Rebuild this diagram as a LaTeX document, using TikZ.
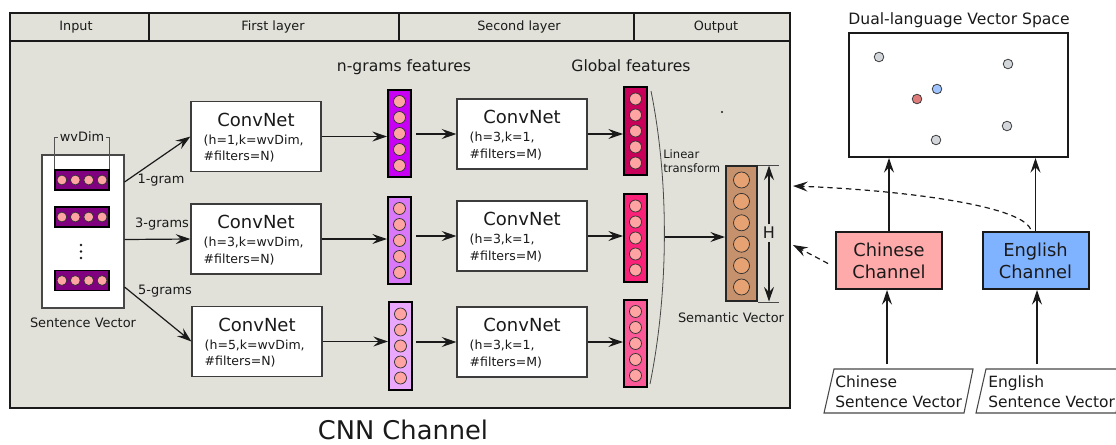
\documentclass[tikz,border=0pt]{standalone}
\usepackage{fontspec}
\setmainfont{DejaVu Sans}
\usetikzlibrary{arrows.meta,calc}

\definecolor{ink}{HTML}{1A1A1A}
\definecolor{panelbg}{HTML}{E1E1DA}
\definecolor{beadc}{HTML}{FFA3A3}
\definecolor{wordc}{HTML}{800080}
\definecolor{ngAc}{HTML}{C800F4}
\definecolor{ngBc}{HTML}{DA78FA}
\definecolor{ngCc}{HTML}{EAA8FC}
\definecolor{gfAc}{HTML}{C8005A}
\definecolor{gfBc}{HTML}{FA2278}
\definecolor{gfCc}{HTML}{FA5896}
\definecolor{semc}{HTML}{C6926E}
\definecolor{sembeadc}{HTML}{E6A272}
\definecolor{zhc}{HTML}{FFAAAA}
\definecolor{enc}{HTML}{80B3FF}
\definecolor{ptgray}{HTML}{D3D6DB}
\definecolor{ptblue}{HTML}{9EC3FF}
\definecolor{ptred}{HTML}{E07B7B}

\tikzset{
  arr/.style={draw=ink, line width=0.9pt, -{Stealth[length=11pt,width=7.5pt,inset=4pt]}},
  darr/.style={arr, dash pattern=on 4pt off 3pt},
  convbox/.style={draw=ink!85, line width=0.9pt, fill=white, minimum width=97.5pt, minimum height=52.5pt, inner sep=0pt},
  convtitle/.style={font=\fontsize{13.5}{16}\selectfont, inner sep=0pt, text=ink},
  convparam/.style={font=\fontsize{9.4}{11}\selectfont, inner sep=0pt, text=ink},
  hdr/.style={font=\fontsize{9.6}{11}\selectfont, inner sep=0pt, anchor=base, text=ink},
  lbl/.style={font=\fontsize{9.7}{11}\selectfont, inner sep=0pt, anchor=base, text=ink},
  ttl/.style={font=\fontsize{11.7}{14}\selectfont, inner sep=0pt, anchor=base, text=ink},
  wvec/.style={draw=black, line width=1.1pt, fill=wordc, minimum width=40.5pt, minimum height=15pt, inner sep=0pt},
  colvec/.style={draw=black, line width=1.5pt, minimum width=17.25pt, minimum height=65.5pt, inner sep=0pt},
  semvbox/.style={draw=black!85, line width=1.3pt, fill=semc, minimum width=23.5pt, minimum height=101.5pt, inner sep=0pt},
  bead/.style={draw=ink!90, line width=0.55pt, fill=beadc},
  chanbox/.style={draw=ink, line width=1.5pt, minimum width=79.5pt, minimum height=42.75pt, inner sep=0pt, align=center, text=ink, font=\fontsize{13.4}{16.5}\selectfont},
  spacept/.style={draw=ink!85, line width=0.6pt},
  slanted/.style={draw=ink!80, line width=0.8pt, fill=white},
  sentlbl/.style={font=\fontsize{11.6}{15}\selectfont, align=left, anchor=north west, inner sep=0pt, text=ink},
}

% a ConvNet box: name, x, y, first parameter line, second parameter line
\newcommand{\convnet}[5]{%
  \node[convbox] (#1) at (#2,#3) {};
  \node[convtitle, anchor=base] (#1t) at ($(#1.center)+(0,-10.5)$) {ConvNet};
  \node[convparam, anchor=base west] (#1a) at ($(#1.west)+(13,7.5)$) {#4};
  \node[convparam, anchor=base west] (#1b) at ($(#1.west)+(13,24)$) {#5};
}

\begin{document}
\begin{tikzpicture}[x=0.75pt,y=-0.75pt]
\useasboundingbox (0,0) rectangle (1116,444);
\fill[white] (0,0) rectangle (1116,444);

% ---------- CNN channel panel ----------
\node[draw=ink, line width=1.5pt, fill=panelbg, minimum width=585pt, minimum height=296.25pt, inner sep=0pt] (panel) at (400,210.5) {};
\draw[ink, line width=0.8pt] (10,41) -- (790,41);
\foreach \xx in {149,399,634} \draw[ink, line width=0.8pt] (\xx,13) -- (\xx,41);
\node[hdr] (hin) at (76,30) {Input};
\node[hdr] (hfirst) at (273,30) {First layer};
\node[hdr] (hsecond) at (519,30) {Second layer};
\node[hdr] (hout) at (716,30) {Output};

% sentence vector (input)
\node[draw=ink!80, line width=0.8pt, fill=white, minimum width=61.5pt, minimum height=114.75pt, inner sep=0pt] (sv) at (83,231.5) {};
\draw[ink!75, line width=0.6pt] (54,169) -- (54,137) -- (109,137) -- (109,169);
\node[lbl, fill=panelbg, inner xsep=1pt, inner ysep=0pt] (wvdim) at (82,141.5) {wvDim};
\node[wvec] (w1) at (82,180) {};
\node[wvec] (w2) at (82,217) {};
\node[wvec] (w3) at (82,280.5) {};
\foreach \w in {w1,w2,w3}
  \foreach \k in {-1.5,-0.5,0.5,1.5}
    \draw[bead] ($(\w.center)+(\k*13.4,0)$) circle[radius=3.7pt];
\foreach \yy in {245,251.5,258} \fill[ink] (81,\yy) circle[radius=1.1pt];
\node[lbl] (svlab) at (83,327) {Sentence Vector};

% first layer
\convnet{c1}{256}{136.5}{(h=1,k=wvDim,}{\#filters=N)}
\convnet{c2}{256}{239}{(h=3,k=wvDim,}{\#filters=N)}
\convnet{c3}{257}{341.5}{(h=5,k=wvDim,}{\#filters=N)}

\draw[arr] ($(sv.east)+(0,-49.5)$) -- (c1.west);
\draw[arr] ($(sv.east)+(0,8)$) -- (c2.west);
\draw[arr] ($(sv.east)+(0,55.5)$) -- (c3.west);
\node[lbl] (g1) at (161,183) {1-gram};
\node[lbl] (g3) at (162,227) {3-grams};
\node[lbl] (g5) at (165,294) {5-grams};

% n-gram feature vectors
\node[ttl] (nglab) at (404,71) {n-grams features};
\node[colvec, fill=ngAc] (ng1) at (399.5,133.5) {};
\node[colvec, fill=ngBc] (ng2) at (399.5,240.5) {};
\node[colvec, fill=ngCc] (ng3) at (400.5,346) {};

% second layer
\convnet{cc1}{522}{134}{(h=3,k=1,}{\#filters=M)}
\convnet{cc2}{522}{236}{(h=3,k=1,}{\#filters=M)}
\convnet{cc3}{522}{342}{(h=3,k=1,}{\#filters=M)}

% global feature vectors
\node[ttl] (gflab) at (631,71) {Global features};
\node[colvec, fill=gfAc] (gf1) at (635.5,131) {};
\node[colvec, fill=gfBc] (gf2) at (635.5,238) {};
\node[colvec, fill=gfCc] (gf3) at (635.5,343.5) {};

\foreach \v in {ng1,ng2,ng3,gf1,gf2,gf3}
  \foreach \k in {-2,...,2}
    \draw[bead] ($(\v.center)+(0,\k*16)$) circle[radius=4.5pt];

\foreach \i in {1,2,3} {
  \draw[arr] (c\i.east) -- (c\i.east -| ng\i.west);
  \draw[arr] ($(cc\i.west)+(-40,0)$) -- (cc\i.west);
  \draw[arr] (cc\i.east) -- (cc\i.east -| gf\i.west);
}

% linear transform to the semantic vector
\draw[ink!80, line width=0.6pt] (651,91) .. controls (669,180) and (669,290) .. (650,384);
\node[font=\fontsize{8.7}{10.5}\selectfont, align=left, anchor=north west, inner sep=0pt, text=ink] (ltlab) at (663,149.5) {Linear\\transform};
\fill[ink] (722,112) circle[radius=0.8pt];

\node[semvbox] (sem) at (741.5,233.5) {};
\foreach \k in {-2.5,-1.5,-0.5,0.5,1.5,2.5}
  \draw[bead, fill=sembeadc] ($(sem.center)+(0,\k*21.4)$) circle[radius=6pt];
\coordinate (lt) at (665,237);
\draw[arr] (lt) -- (lt -| sem.west);

\draw[ink!80, line width=0.6pt] (sem.north east) -- ++(21,0);
\draw[ink!80, line width=0.6pt] (sem.south east) -- ++(21,0);
\node[font=\fontsize{12}{14}\selectfont, inner sep=2pt, text=ink] (hlab) at (769,233) {H};
\coordinate (htop) at (769,165.5);
\coordinate (hbot) at (769,301.5);
\draw[arr] (hlab.north) -- (htop);
\draw[arr] (hlab.south) -- (hbot);
\node[lbl] (semlab) at (731,322) {Semantic Vector};

\node[font=\fontsize{19.3}{22}\selectfont, anchor=base, inner sep=0pt, text=ink] (cnnlab) at (403,439) {CNN Channel};

% ---------- dual-language side ----------
\node[ttl] (vslab) at (959,24) {Dual-language Vector Space};
\node[draw=ink, line width=1.5pt, fill=white, minimum width=164.25pt, minimum height=93pt, inner sep=0pt] (vs) at (958.5,95) {};
\foreach \px/\py in {879/57, 1008/64, 936/140, 1007/126}
  \draw[spacept, fill=ptgray] (\px,\py) circle[radius=3.6pt];
\draw[spacept, fill=ptblue] (937,89) circle[radius=3.6pt];
\draw[spacept, fill=ptred] (917,99) circle[radius=3.6pt];

\node[chanbox, fill=zhc] (cn) at (889,260.5) {Chinese\\Channel};
\node[chanbox, fill=enc] (en) at (1035.5,260.5) {English\\Channel};
\draw[arr] (cn.north) -- (cn.north |- vs.south);
\draw[arr] (en.north) -- (en.north |- vs.south);

\draw[slanted] (834,369) -- (973,369) -- (964,413) -- (824,413) -- cycle;
\node[sentlbl] (zsv) at (835,375.3) {Chinese\\Sentence Vector};
\draw[slanted] (986,369) -- (1125,369) -- (1116,413) -- (976,413) -- cycle;
\node[sentlbl] (esv) at (988,375.3) {English\\Sentence Vector};

\coordinate (zsTop) at (887,364);
\coordinate (esTop) at (1037,364);
\draw[arr] (zsTop) -- (zsTop |- cn.south);
\draw[arr] (esTop) -- (esTop |- en.south);

\coordinate (inA) at (793,186);
\coordinate (inB) at (793,245);
\draw[darr] ($(cn.west)+(-7,3)$) -- (inB);
\draw[darr] ($(en.north)+(-5,-2)$) .. controls (1020,205) and (900,190) .. (inA);
\end{tikzpicture}
\end{document}
